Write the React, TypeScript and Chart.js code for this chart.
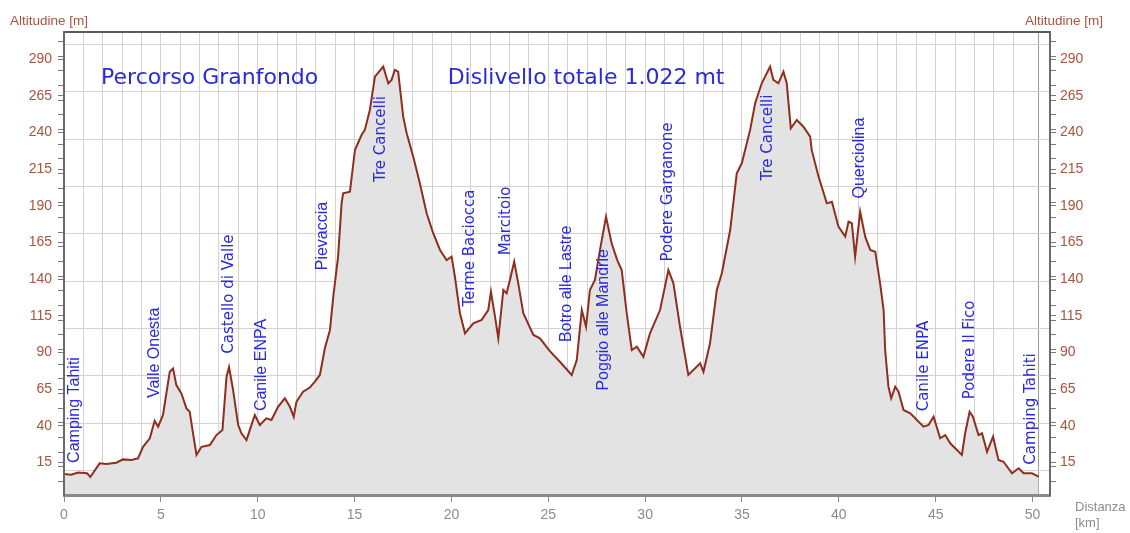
import React, { useEffect, useRef } from 'react';
import { Chart, registerables } from 'chart.js';

Chart.register(...registerables);

// ---- profile data (distance km, altitude m) ----
const DIST_KM = [
  0.0, 0.38, 0.72, 1.19, 1.36, 1.84, 2.19, 2.7, 3.05, 3.48, 3.82, 4.08, 4.43, 4.68, 4.86, 5.11, 5.46, 5.63, 5.8, 6.06,
  6.32, 6.49, 6.66, 6.84, 7.1, 7.53, 7.87, 8.18, 8.39, 8.52, 8.73, 8.99, 9.16, 9.42, 9.59, 9.85, 10.11, 10.45, 10.71, 11.05,
  11.4, 11.66, 11.86, 12.0, 12.34, 12.69, 12.95, 13.21, 13.47, 13.73, 13.9, 14.15, 14.33, 14.41, 14.76, 15.02, 15.36, 15.53, 15.79, 16.05,
  16.48, 16.74, 16.91, 17.08, 17.25, 17.51, 17.69, 18.03, 18.37, 18.72, 19.06, 19.41, 19.75, 20.01, 20.18, 20.44, 20.7, 21.13, 21.56, 21.9,
  22.04, 22.25, 22.42, 22.68, 22.85, 23.02, 23.24, 23.45, 23.71, 24.23, 24.57, 25.07, 25.6, 26.21, 26.47, 26.73, 26.95, 27.15, 27.41, 27.67,
  27.98, 28.27, 28.56, 28.79, 29.05, 29.31, 29.57, 29.91, 30.25, 30.77, 31.2, 31.46, 31.8, 32.23, 32.84, 33.01, 33.35, 33.7, 33.96, 34.39,
  34.73, 34.99, 35.42, 35.68, 36.02, 36.45, 36.62, 36.88, 37.14, 37.31, 37.52, 37.83, 38.17, 38.52, 38.6, 38.95, 39.38, 39.64, 39.98, 40.33,
  40.5, 40.67, 40.84, 41.1, 41.36, 41.62, 41.88, 42.13, 42.31, 42.39, 42.56, 42.7, 42.91, 43.08, 43.34, 43.69, 44.03, 44.37, 44.63, 44.89,
  45.23, 45.49, 45.75, 46.35, 46.52, 46.75, 46.92, 47.21, 47.39, 47.65, 47.96, 48.24, 48.5, 48.94, 49.28, 49.54, 49.97, 50.31,
];
const ALT_M = [
  7, 6.5, 8, 7.5, 5, 14.3, 13.8, 14.7, 17, 16.6, 17.7, 25.6, 31.4, 43.4, 39.3, 47.3, 76.8, 79, 67.7, 62,
  51.8, 49.5, 34.8, 20, 25.6, 26.8, 33.6, 37, 73.4, 80, 64.3, 40.5, 34.8, 30.2, 37, 47.3, 40.5, 45, 43.9, 52.9,
  58.7, 52.9, 46.1, 56.3, 63.2, 66, 70, 74.6, 93, 105.3, 128, 155.3, 191.7, 198.6, 199.6, 228.1, 238.3, 241.8, 255.4, 278.1,
  285, 273.6, 275.9, 282.7, 281.5, 250.8, 239.5, 223.5, 205.4, 184.9, 171.3, 159.9, 153, 155.3, 141.6, 116.7, 103, 109.8, 112.1, 118.9,
  131.4, 114.4, 99.6, 132.6, 130.3, 139.4, 151.9, 137.1, 116.7, 101.9, 99.6, 91, 83.6, 74.6, 84.8, 118.9, 107.5, 132.6, 139.4, 159.9,
  182.6, 164.4, 153, 146.2, 116.7, 91.6, 93.9, 87, 103, 118.9, 146.2, 137.1, 107.5, 74.6, 82.6, 76.8, 96.2, 132.6, 144, 173.5,
  212.2, 219, 241.8, 260, 273.6, 285, 275.9, 273.6, 281.5, 273.6, 242.9, 248.6, 244, 237.2, 228, 210, 191.7, 192.8, 175.8, 169,
  179.2, 178.1, 155.3, 186, 169, 159.9, 158.7, 137.1, 118.9, 91.6, 66.6, 58.7, 66.6, 63.2, 50.7, 48.4, 43.9, 39.3, 40.5, 46.1,
  31.4, 33.6, 28, 20, 34.8, 49.5, 46.1, 33.6, 34.8, 22.2, 32.5, 16.6, 15.4, 7.5, 10.9, 7.5, 7.5, 5.2,
];

// ---- axes ----
const ALT_LABELS = [15, 40, 65, 90, 115, 140, 165, 190, 215, 240, 265, 290];
const ALT_MINOR_TICKS = [2, 12, 22, 32, 42, 52, 62, 72, 82, 92, 102, 112, 122, 132, 142, 152, 162, 172, 182, 192, 202, 212, 222, 232, 242, 252, 262, 272, 282, 292, 302];
const ALT_GRID = [9.3, 41.6, 73.9, 106.2, 138.5, 170.8, 203.1, 235.4, 267.7, 300];
const KM_TICKS = [0, 1, 2, 3, 4, 5, 6, 7, 8, 9, 10, 11, 12, 13, 14, 15, 16, 17, 18, 19, 20, 21, 22, 23, 24, 25, 26, 27, 28, 29, 30, 31, 32, 33, 34, 35, 36, 37, 38, 39, 40, 41, 42, 43, 44, 45, 46, 47, 48, 49, 50];
const KM_LABELS = [0, 5, 10, 15, 20, 25, 30, 35, 40, 45, 50];
const ROUTE_END_KM = 50.3;
const X_MAX = 50.9;
const Y_MIN = -7.3;
const Y_MAX = 308.6;

// ---- place names along the route ----
const PLACE_NAMES = [
  'Camping Tahiti', 'Valle Onesta', 'Castello di Valle', 'Canile ENPA', 'Pievaccia', 'Tre Cancelli',
  'Terme Baciocca', 'Marcitoio', 'Botro alle Lastre', 'Poggio alle Mandrie', 'Podere Garganone',
  'Tre Cancelli', 'Querciolina', 'Canile ENPA', 'Podere Il Fico', 'Camping Tahiti',
];
const PLACE_KM = [0.55, 4.69, 8.51, 10.21, 13.36, 16.36, 20.96, 22.82, 25.97, 27.88, 31.18, 36.35, 41.05, 44.41, 46.78, 49.93];
const PLACE_ALT = [50.7, 89.7, 129.8, 81.4, 169.4, 235.6, 161.2, 179.7, 136.8, 112.2, 199.4, 236.6, 222.6, 80.7, 91.7, 51.4];
const PLACE_FONT_KIND = ['plain', 'plain', 'hand', 'plain', 'plain', 'hand', 'hand', 'hand', 'plain', 'plain', 'hand', 'hand', 'plain', 'hand', 'hand', 'hand'];

const HEADLINES = ['Percorso Granfondo', 'Dislivello totale 1.022 mt'];
const HEADLINE_KM = [7.52, 26.95];
const HEADLINE_ALT = [277, 277];

const BLUE = '#2a2ad8';
const AXIS_RED = '#a9543d';
const GREY_TEXT = '#8c8c8c';

export default function App() {
  const canvasRef = useRef<HTMLCanvasElement | null>(null);

  useEffect(() => {
    const canvas = canvasRef.current;
    if (!canvas) return;

    const textPlugin = {
      id: 'profileText',
      afterDatasetsDraw(chart: any) {
        const { ctx, scales } = chart;
        const xs = scales.x;
        const ys = scales.y;
        ctx.save();
        ctx.fillStyle = BLUE;
        ctx.textAlign = 'center';
        ctx.textBaseline = 'middle';
        ctx.font = '22px "DejaVu Sans"';
        HEADLINES.forEach((t, i) => {
          ctx.fillText(t, xs.getPixelForValue(HEADLINE_KM[i]), ys.getPixelForValue(HEADLINE_ALT[i]));
        });
        PLACE_NAMES.forEach((t, i) => {
          const px = xs.getPixelForValue(PLACE_KM[i]);
          const py = ys.getPixelForValue(PLACE_ALT[i]);
          ctx.save();
          ctx.translate(px, py);
          ctx.rotate(-Math.PI / 2);
          ctx.font = PLACE_FONT_KIND[i] === 'hand' ? '15px "DejaVu Sans"' : '16px "Liberation Sans"';
          ctx.fillText(t, 0, 0);
          ctx.restore();
        });
        ctx.restore();
      },
      afterDraw(chart: any) {
        const { ctx, chartArea } = chart;
        ctx.save();
        ctx.textBaseline = 'middle';
        ctx.textAlign = 'left';
        ctx.fillStyle = AXIS_RED;
        ctx.font = '13.5px "Liberation Sans"';
        ctx.fillText('Altitudine [m]', 10, 21);
        ctx.fillText('Altitudine [m]', chartArea.right - 25, 21);
        ctx.fillStyle = GREY_TEXT;
        ctx.font = '13px "Liberation Sans"';
        ctx.fillText('Distanza', chartArea.right + 25, chartArea.bottom + 12);
        ctx.fillText('[km]', chartArea.right + 25, chartArea.bottom + 28);
        ctx.restore();
      },
    };

    const yTickValues = [...ALT_MINOR_TICKS, ...ALT_LABELS].sort((a, b) => a - b);
    const yLabel = (v: any) => (ALT_LABELS.includes(Number(v)) ? String(v) : '');
    const yAxisBase = (pos: 'left' | 'right', width: number) => ({
      type: 'linear' as const,
      position: pos,
      min: Y_MIN,
      max: Y_MAX,
      afterBuildTicks: (s: any) => {
        s.ticks = yTickValues.map((v) => ({ value: v }));
      },
      afterFit: (s: any) => {
        s.width = width;
      },
      grid: { drawOnChartArea: false, drawTicks: true, tickLength: 6, tickColor: '#7a7a7a', tickWidth: 1 },
      border: { display: true, color: '#6a6a6a', width: 2, z: 1 },
      ticks: {
        autoSkip: false,
        padding: pos === 'left' ? 6 : 4,
        color: AXIS_RED,
        font: { family: 'Liberation Sans', size: 14 },
        callback: yLabel,
      },
    });

    const chart = new Chart(canvas, {
      type: 'line',
      data: {
        datasets: [
          {
            data: DIST_KM.map((k, i) => ({ x: k, y: ALT_M[i] })),
            borderColor: '#8f2e1f',
            borderWidth: 2,
            backgroundColor: '#e3e3e3',
            fill: 'start',
            pointRadius: 0,
            tension: 0,
          },
        ],
      },
      options: {
        responsive: false,
        animation: false,
        layout: { padding: { top: 32, left: 0, right: 0, bottom: 0 } },
        plugins: { legend: { display: false }, tooltip: { enabled: false } },
        scales: {
          x: {
            type: 'linear',
            position: 'bottom',
            min: 0,
            max: X_MAX,
            afterBuildTicks: (s: any) => {
              s.ticks = [...KM_TICKS, ROUTE_END_KM].map((v) => ({ value: v }));
            },
            afterFit: (s: any) => {
              s.height = 38;
            },
            grid: {
              color: (c: any) => {
                const v = c.tick ? c.tick.value : -1;
                if (v === 0 || v === 50) return 'rgba(0,0,0,0)';
                if (v === ROUTE_END_KM) return '#9a9a9a';
                return '#d2d2d2';
              },
              lineWidth: 1,
              drawTicks: true,
              tickLength: 7,
              tickWidth: 1,
              tickColor: (c: any) => (c.tick && KM_LABELS.includes(c.tick.value) ? '#8a8a8a' : 'rgba(0,0,0,0)'),
            },
            border: { display: true, color: '#8a8a8a', width: 3, z: 1 },
            ticks: {
              autoSkip: false,
              maxRotation: 0,
              padding: 5,
              color: GREY_TEXT,
              font: { family: 'Liberation Sans', size: 14 },
              callback: (v: any) => (KM_LABELS.includes(Number(v)) ? String(v) : ''),
            },
          },
          xTop: {
            type: 'linear',
            position: 'top',
            min: 0,
            max: X_MAX,
            grid: { drawOnChartArea: false, drawTicks: false },
            ticks: { display: false },
            border: { display: true, color: '#5a5a5a', width: 2, z: 1 },
          },
          y: yAxisBase('left', 64),
          yGrid: {
            type: 'linear',
            position: 'left',
            min: Y_MIN,
            max: Y_MAX,
            afterBuildTicks: (s: any) => {
              s.ticks = ALT_GRID.map((v) => ({ value: v }));
            },
            afterFit: (s: any) => {
              s.width = 0;
            },
            grid: { color: '#d2d2d2', lineWidth: 1, drawTicks: false },
            ticks: { display: false },
            border: { display: false },
          },
          yRight: yAxisBase('right', 80),
        },
      } as any,
      plugins: [textPlugin],
    });

    return () => chart.destroy();
  }, []);

  return (
    <div style={{ position: 'absolute', left: 0, top: 0, width: 1130, height: 533, background: '#fff' }}>
      <canvas ref={canvasRef} width={1130} height={533} style={{ display: 'block' }} />
    </div>
  );
}
